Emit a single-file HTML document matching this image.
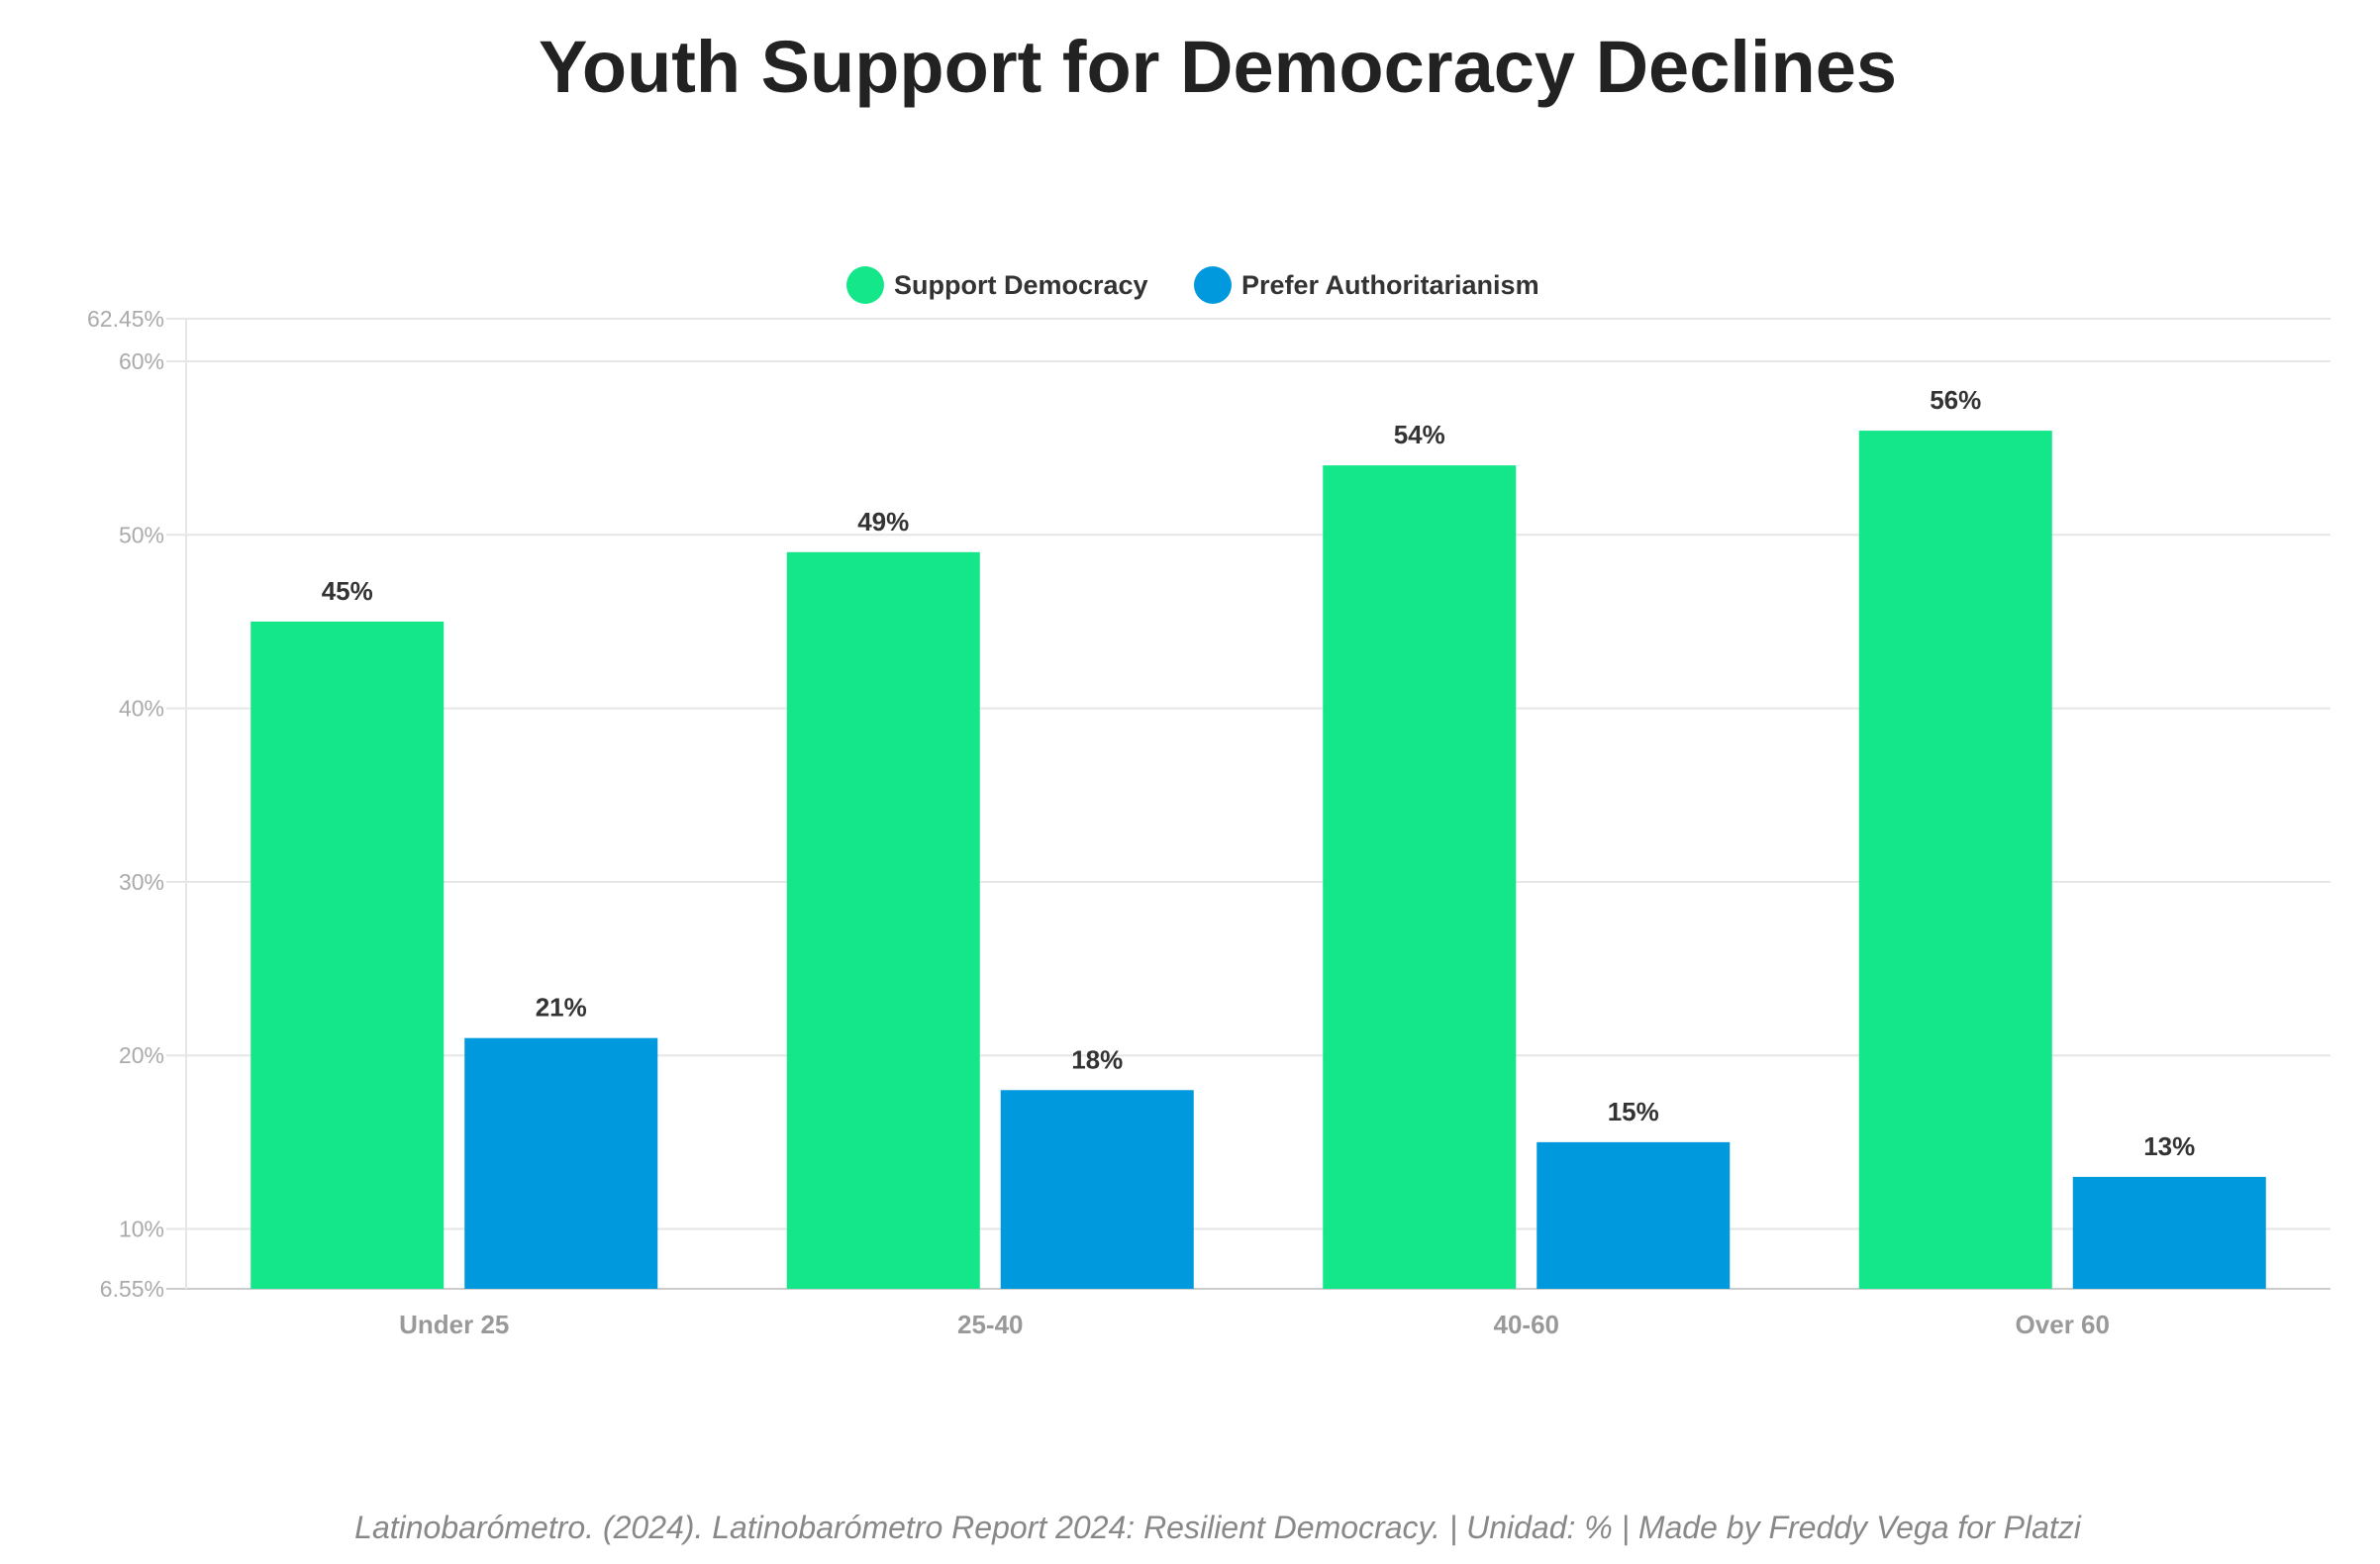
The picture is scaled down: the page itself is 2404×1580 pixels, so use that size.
<!DOCTYPE html>
<html><head><meta charset="utf-8"><style>
html,body{margin:0;padding:0;background:#fff;}
svg{display:block;font-family:"Liberation Sans",sans-serif;}
</style></head><body>
<svg id="chart" width="2404" height="1580" viewBox="0 0 2404 1580">
<text x="1230" y="93" text-anchor="middle" font-size="74" font-weight="bold" fill="#222">Youth Support for Democracy Declines</text>
<g>
<g><circle cx="874" cy="288" r="19" fill="#13E78A"/><text x="903" y="297" font-size="27" font-weight="bold" fill="#333">Support Democracy</text></g>
<g><circle cx="1225" cy="288" r="19" fill="#0099DD"/><text x="1254" y="297" font-size="27" font-weight="bold" fill="#333">Prefer Authoritarianism</text></g>
</g>
<g id="grid"></g>
<g id="bars"></g>
<text x="1230" y="1554" text-anchor="middle" font-size="32" font-style="italic" fill="#888">Latinobarómetro. (2024). Latinobarómetro Report 2024: Resilient Democracy. | Unidad: % | Made by Freddy Vega for Platzi</text>
</svg>
<script>
const categories = ["Under 25","25-40","40-60","Over 60"];
const supportDemocracy = [45,49,54,56];
const preferAuthoritarianism = [21,18,15,13];
const tickValues = [6.55,10,20,30,40,50,60,62.45];
const tickLabels = ["6.55%","10%","20%","30%","40%","50%","60%","62.45%"];

const NS="http://www.w3.org/2000/svg";
const L=188,R=2354,T=322,B=1302,yMin=6.55,yMax=62.45;
function y(v){return B-(v-yMin)/(yMax-yMin)*(B-T);}
const band=(R-L)/categories.length;
function xc(i){return L+band*(i+0.5);}
function mk(tag,attrs,parent){const e=document.createElementNS(NS,tag);for(const k in attrs)e.setAttribute(k,attrs[k]);parent.appendChild(e);return e;}
const grid=document.getElementById('grid'),bars=document.getElementById('bars');
tickValues.forEach((v,i)=>{
  const yy=y(v);
  const ln=mk('line',{x1:L-20,x2:R,y1:yy,y2:yy,stroke:i===0?'#ccc':'#e6e6e6','stroke-width':2},grid);
  
  
  const t=mk('text',{x:166,y:yy+8,'text-anchor':'end','font-size':23,fill:'#aaa'},grid);
  t.textContent=tickLabels[i];
  
  
});
const ax=mk('line',{x1:L,x2:L,y1:T,y2:B,stroke:'#e6e6e6','stroke-width':2},grid);


const bw=195,gap=21;
categories.forEach((c,i)=>{
  const cx=xc(i);
  [[supportDemocracy,'#13E78A',cx-gap/2-bw,'support'],[preferAuthoritarianism,'#0099DD',cx+gap/2,'authoritarian']].forEach(([arr,col,x0,nm])=>{
    const v=arr[i];
    const r=mk('rect',{x:x0,y:y(v),width:bw,height:B-y(v),fill:col},bars);
    
    
    const t=mk('text',{x:x0+bw/2,y:y(v)-22,'text-anchor':'middle','font-size':26,'font-weight':'bold',fill:'#333'},bars);
    t.textContent=v+'%';
    
    
  });
  const t=mk('text',{x:cx,y:1347,'text-anchor':'middle','font-size':26,'font-weight':'bold',fill:'#999'},bars);
  t.textContent=c;
  
  
});
</script>
</body></html>
